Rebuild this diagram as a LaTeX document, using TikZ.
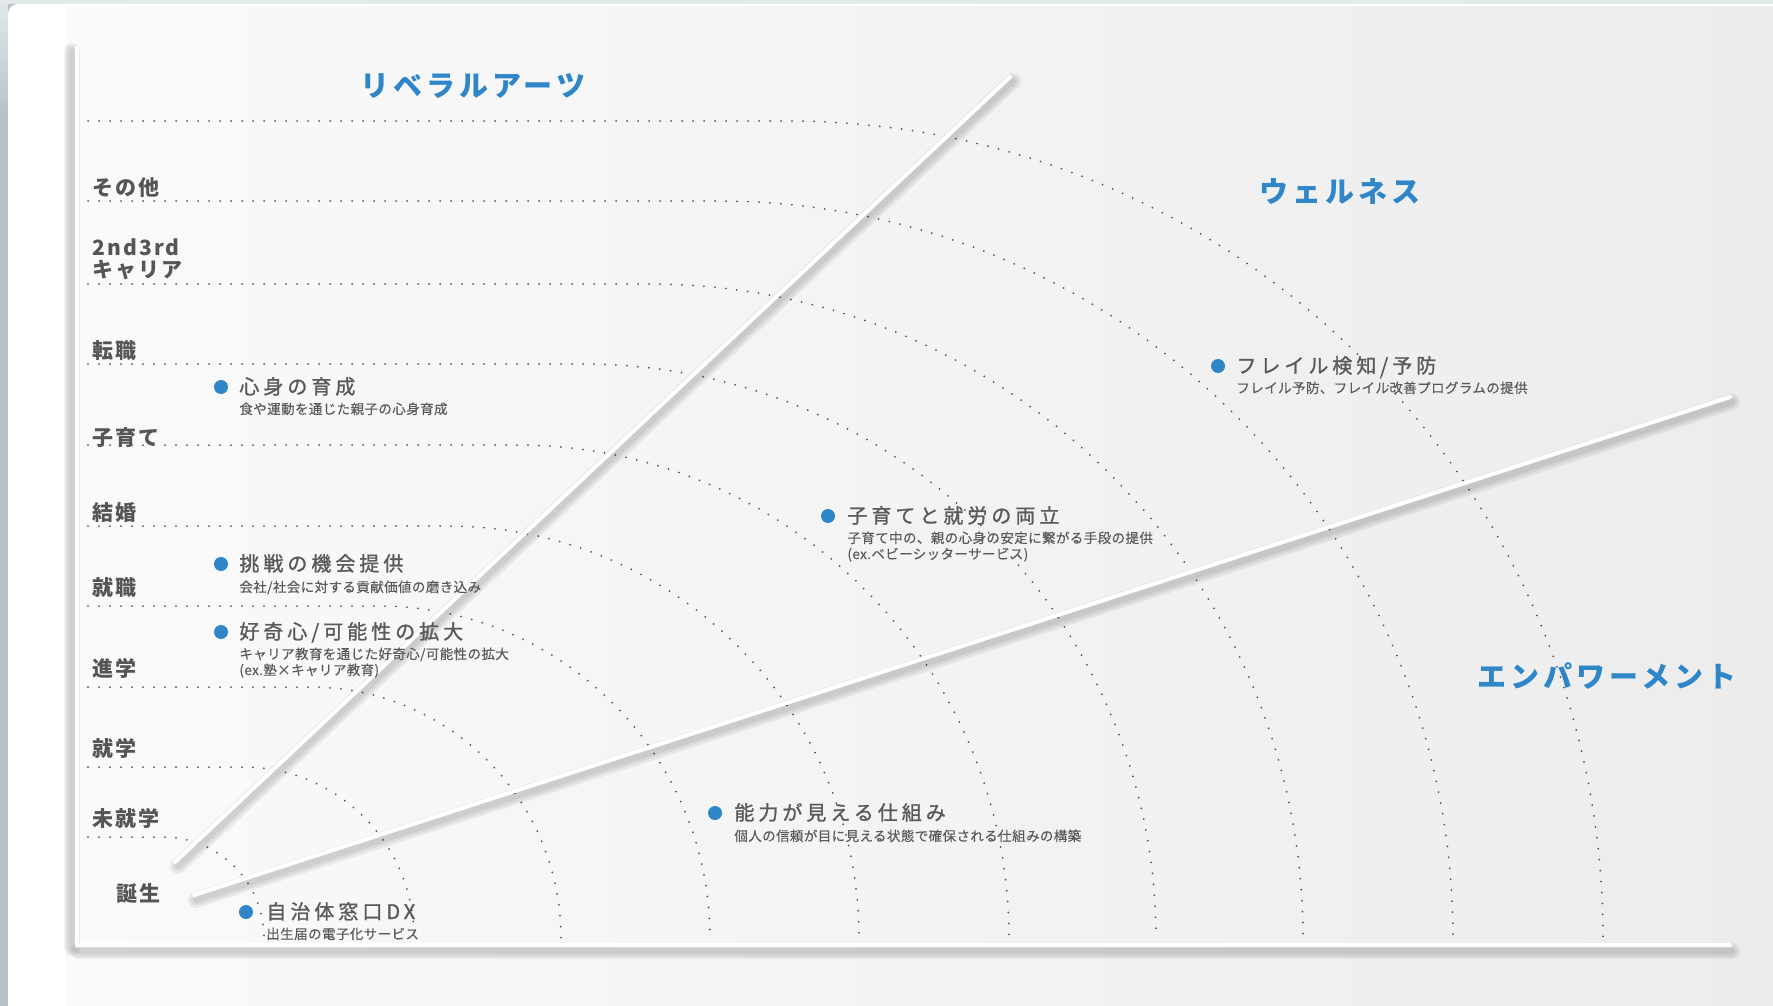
\documentclass[tikz,border=0pt]{standalone}
\usepackage{fontspec}
\newfontfamily\jpblue[LetterSpace=14]{Noto Sans CJK JP}
\newfontfamily\jplab[LetterSpace=10]{Noto Sans CJK JP}
\newfontfamily\jptit[LetterSpace=20,FakeBold=1.2]{Noto Sans CJK JP}
\newfontfamily\jpsub[LetterSpace=3,FakeBold=0.3]{Noto Sans CJK JP}
\definecolor{accent}{HTML}{2E86C8}
\definecolor{ink}{HTML}{555555}
\definecolor{inksoft}{HTML}{5A5A5A}
\definecolor{dotc}{HTML}{555555}
\definecolor{stripgray}{HTML}{B9BFC3}
\definecolor{striplight}{HTML}{E3E8EB}
\definecolor{panelleft}{HTML}{FAFAFA}
\definecolor{panelright}{HTML}{ECECEC}
\tikzset{
  axistitle/.style={anchor=base west, inner sep=0pt, text=accent, font=\jpblue\bfseries\fontsize{14.5pt}{17pt}\selectfont},
  rowlabel/.style={anchor=base west, inner sep=0pt, text=ink, font=\jplab\bfseries\fontsize{10.5pt}{12pt}\selectfont},
  itemtitle/.style={anchor=base west, inner sep=0pt, text=inksoft, font=\jptit\fontsize{10pt}{12pt}\selectfont},
  itemsub/.style={anchor=base west, inner sep=0pt, text=inksoft, font=\jpsub\fontsize{6.75pt}{8pt}\selectfont},
  bulletdot/.style={circle, fill=accent, inner sep=0pt, minimum size=7pt},
  dotline/.style={draw=dotc, line width=1pt, line cap=round, dash pattern=on 0pt off 5.5pt},
  whiteline/.style={draw=white, line width=2pt, line cap=round},
  shadowline/.style={draw=black, line cap=round, opacity=0.06},
}
\begin{document}
\begin{tikzpicture}[x=0.5pt,y=-0.5pt]
\useasboundingbox (0,0) rectangle (1773,1006);
% page background
\fill[stripgray] (0,0) rectangle (1773,1006);
\shade[top color=striplight, bottom color=stripgray] (0,0) rectangle (8,120);
\fill[striplight] (0,0) rectangle (1773,4);
\fill[white, rounded corners=5pt] (8,4) rectangle (1800,1040);
\shade[left color=panelleft, right color=panelright] (66,7) rectangle (1773,1006);

% dotted life-stage curves
\foreach \yy/\ex in {121/1603, 201/1453, 284/1303, 364/1156, 445/1009, 526/859, 606/710, 687/561, 767/414, 837/264}{
  \pgfmathsetmacro\rr{938-\yy}
  \pgfmathsetmacro\cx{\ex-\rr}
  \draw[dotline] (88,\yy) -- (\cx,\yy) .. controls ({\cx+0.5523*\rr},\yy) and (\ex,{938-0.5523*\rr}) .. (\ex,938);
}

% axis and divider lines
\coordinate (axT) at (76.5,48);
\coordinate (axO) at (76.5,945);
\coordinate (axR) at (1730,945);
\coordinate (la1) at (175,862);
\coordinate (la2) at (1010,77);
\coordinate (lb1) at (194,895);
\coordinate (lb2) at (1730,397);
\foreach \w in {8pt,5.5pt,3pt}{
  \draw[shadowline, line width=\w] ([shift={(-5,3)}]axT) -- ([shift={(-5,3)}]axO);
  \draw[shadowline, line width=\w] ([shift={(2,6)}]axO) -- ([shift={(2,6)}]axR);
  \draw[shadowline, line width=\w] ([shift={(3,4)}]la1) -- ([shift={(3,4)}]la2);
  \draw[shadowline, line width=\w] ([shift={(2,5)}]lb1) -- ([shift={(2,5)}]lb2);
}
\draw[whiteline] (axT) -- (axO) -- (axR);
\draw[whiteline] (la1) -- (la2);
\draw[whiteline] (lb1) -- (lb2);

% axis titles
\node[axistitle] (tLib) at (360,97) {リベラルアーツ};
\node[axistitle] (tWel) at (1259,203) {ウェルネス};
\node[axistitle] (tEmp) at (1477,687) {エンパワーメント};

% row labels
\node[rowlabel] (rOther) at (92,195) {その他};
\node[rowlabel] (rCareerA) at (92,256) {2nd3rd};
\node[rowlabel] (rCareerB) at (92,278) {キャリア};
\node[rowlabel] (rJob) at (92,358) {転職};
\node[rowlabel] (rChild) at (92,445) {子育て};
\node[rowlabel] (rMarry) at (92,520) {結婚};
\node[rowlabel] (rWork) at (92,595) {就職};
\node[rowlabel] (rAdv) at (92,676) {進学};
\node[rowlabel] (rSchool) at (92,756) {就学};
\node[rowlabel] (rPre) at (92,826) {未就学};
\node[rowlabel] (rBirth) at (116,901) {誕生};

% items
\node[bulletdot] (d1) at (221,387) {};
\node[itemtitle] (i1) at (239,394) {心身の育成};
\node[itemsub] (s1) at (239,414) {食や運動を通じた親子の心身育成};

\node[bulletdot] (d2) at (221,564) {};
\node[itemtitle] (i2) at (239,571) {挑戦の機会提供};
\node[itemsub] (s2) at (239,592) {会社/社会に対する貢献価値の磨き込み};

\node[bulletdot] (d3) at (221,632) {};
\node[itemtitle] (i3) at (239,639) {好奇心/可能性の拡大};
\node[itemsub] (s3a) at (239,659) {キャリア教育を通じた好奇心/可能性の拡大};
\node[itemsub] (s3b) at (239,675) {(ex.塾×キャリア教育)};

\node[bulletdot] (d4) at (246,912) {};
\node[itemtitle] (i4) at (266,919) {自治体窓口DX};
\node[itemsub] (s4) at (266,939) {出生届の電子化サービス};

\node[bulletdot] (d5) at (828,516) {};
\node[itemtitle] (i5) at (847,523) {子育てと就労の両立};
\node[itemsub] (s5a) at (847,543) {子育て中の、親の心身の安定に繋がる手段の提供};
\node[itemsub] (s5b) at (847,559) {(ex.ベビーシッターサービス)};

\node[bulletdot] (d6) at (715,813) {};
\node[itemtitle] (i6) at (734,820) {能力が見える仕組み};
\node[itemsub] (s6) at (734,841) {個人の信頼が目に見える状態で確保される仕組みの構築};

\node[bulletdot] (d7) at (1218,366) {};
\node[itemtitle] (i7) at (1236,373) {フレイル検知/予防};
\node[itemsub] (s7) at (1236,393) {フレイル予防、フレイル改善プログラムの提供};
\end{tikzpicture}
\end{document}
